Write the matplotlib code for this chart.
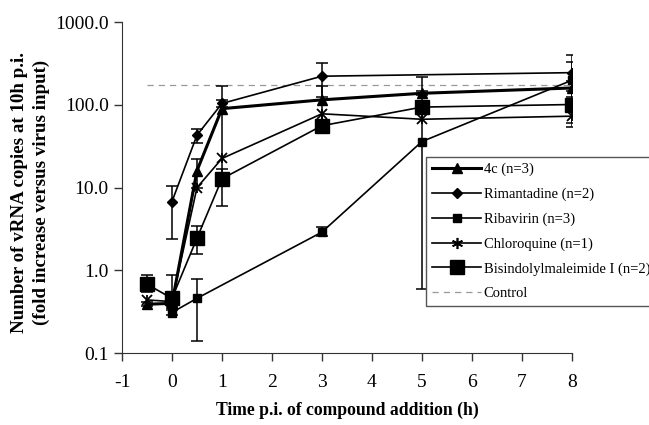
import numpy as np
import matplotlib
matplotlib.use("Agg")
import matplotlib.pyplot as plt
from matplotlib.lines import Line2D

plt.rcParams['font.family'] = ['Liberation Serif', 'DejaVu Serif']
plt.rcParams['axes.unicode_minus'] = False

# values (fold increase), error bars as low / high limits
x_4c = [-0.5, 0, 0.5, 1, 3, 5, 8]
y_4c = [0.39, 0.40, 16, 90, 115, 138, 160]
lo_4c = [0.37, 0.37, 10, 12, 62, 130, 125]
hi_4c = [0.42, 0.43, 22, 168, 168, 146, 195]

x_rim = [0, 0.5, 1, 3, 8]
y_rim = [6.8, 43, 104, 222, 245]
lo_rim = [2.4, 35, 93, 125, 90]
hi_rim = [10.4, 51, 115, 320, 400]

x_rib = [0, 0.5, 3, 5, 8]
y_rib = [0.31, 0.46, 2.9, 36, 198]
lo_rib = [0.29, 0.14, 2.6, 0.6, 60]
hi_rib = [0.33, 0.78, 3.3, 215, 330]

x_chl = [-0.5, 0, 0.5, 1, 3, 5, 8]
y_chl = [0.44, 0.42, 10, 22.5, 78, 67, 73]

x_bis = [-0.5, 0, 0.5, 1, 3, 5, 8]
y_bis = [0.68, 0.46, 2.45, 12.8, 56, 94, 101]
lo_bis = [0.55, 0.35, 1.6, 6, 50, 85, 54]
hi_bis = [0.87, 0.88, 3.4, 17, 62, 103, 148]

x_ctrl = [-0.5, 8]
y_ctrl = [172, 172]

labels = ['4c (n=3)', 'Rimantadine (n=2)', 'Ribavirin (n=3)', 'Chloroquine (n=1)',
          'Bisindolylmaleimide I (n=2)', 'Control']


def yerr(y, lo, hi):
    y = np.array(y)
    return [y - np.array(lo), np.array(hi) - y]


fig = plt.figure(figsize=(6.49, 4.25), dpi=100)
ax = fig.add_axes([0.188, 0.169, 0.693, 0.779])

ax.plot(x_ctrl, y_ctrl, ls=(0, (5, 4)), color='#999999', lw=0.9, zorder=1)

ekw = dict(ecolor='black', elinewidth=1.1, capsize=4, capthick=1.1)
ax.errorbar(x_4c, y_4c, yerr=yerr(y_4c, lo_4c, hi_4c), color='black', lw=2.2,
            marker='^', ms=7, **ekw)
ax.errorbar(x_rim, y_rim, yerr=yerr(y_rim, lo_rim, hi_rim), color='black', lw=1.2,
            marker='D', ms=5, **ekw)
ax.errorbar(x_rib, y_rib, yerr=yerr(y_rib, lo_rib, hi_rib), color='black', lw=1.2,
            marker='s', ms=5.5, **ekw)
ax.plot(x_chl, y_chl, color='black', lw=1.2, marker='x', ms=7, mew=1.3)
ax.plot(x_chl, y_chl, color='black', lw=0, marker='|', ms=7, mew=1.3)
ax.errorbar(x_bis, y_bis, yerr=yerr(y_bis, lo_bis, hi_bis), color='black', lw=1.2,
            marker='s', ms=9.5, **ekw)

ax.set_yscale('log')
ax.set_ylim(0.1, 1000)
ax.set_xlim(-1, 8)
ax.set_xticks(range(-1, 9))
ax.set_yticks([0.1, 1, 10, 100, 1000])
ax.set_yticklabels(['0.1', '1.0', '10.0', '100.0', '1000.0'])
ax.minorticks_off()
ax.tick_params(direction='out', length=6, width=1, labelsize=14, color='#333333')
ax.tick_params(axis='x', pad=9)
for s in ['top', 'right']:
    ax.spines[s].set_visible(False)
for s in ['left', 'bottom']:
    ax.spines[s].set_color('#333333')

ax.set_xlabel('Time p.i. of compound addition (h)', fontsize=12.7, fontweight='bold')
ax.xaxis.set_label_coords(0.5, -0.148)
ax.set_ylabel('Number of vRNA copies at 10h p.i.\n(fold increase versus virus input)',
              fontsize=13.6, fontweight='bold', linespacing=1.35)
ax.yaxis.set_label_coords(-0.204, 0.486)
ax.yaxis.label.set_va('center')

# legend keys without the error bars
handles = [
    Line2D([], [], color='black', lw=2.2, marker='^', ms=7),
    Line2D([], [], color='black', lw=1.2, marker='D', ms=5),
    Line2D([], [], color='black', lw=1.2, marker='s', ms=5.5),
    Line2D([], [], color='black', lw=1.2, marker=(6, 2, 0), ms=8, mew=1.2),
    Line2D([], [], color='black', lw=1.2, marker='s', ms=9.5),
    Line2D([], [], color='#999999', lw=0.9, ls=(0, (5, 4))),
]
leg = fig.legend(handles, labels, loc='upper left',
                 bbox_to_anchor=(426 / 649, 1 - 157 / 425), fontsize=10.5,
                 frameon=True, fancybox=False, edgecolor='#555555', framealpha=1,
                 handlelength=3.4, borderpad=0.4, labelspacing=0.78, handletextpad=0.15,
                 borderaxespad=0)
leg.get_frame().set_linewidth(1.0)

fig.savefig('out.png', dpi=100)
